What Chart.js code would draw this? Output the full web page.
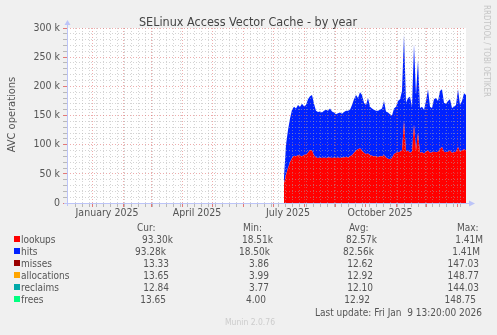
<!DOCTYPE html>
<html>
<head>
<meta charset="utf-8">
<script src="https://cdn.jsdelivr.net/npm/chart.js@4/dist/chart.umd.min.js"></script>
<style>
  body { margin: 0; background: #f0f0f0; }
  #wrap { width: 497px; height: 335px; }
</style>
</head>
<body>
<div id="wrap"><canvas id="avcChart" width="497" height="335"></canvas></div>
<script>
// days counted from 1 Jan 2025; one sample every 2 days from 12 Jul 2025
const firstDay = 192;
const stepDays = 2;

// lookups (k)
const lookups = [
  34, 48, 60, 70, 77, 81, 80, 82, 81, 80, 82, 83, 86, 91, 90, 82,
  78, 77, 78, 77, 78, 77, 78, 78, 77, 78, 77, 78, 77, 78, 78, 79,
  78, 80, 82, 86, 90, 92, 94, 90, 86, 84, 85, 82, 81, 80, 80, 79,
  80, 80, 82, 78, 76, 75, 77, 84, 86, 87, 88, 90, 140, 88, 90, 86,
  88, 134, 90, 120, 86, 87, 85, 88, 90, 86, 87, 88, 87, 88, 92, 96,
  88, 87, 88, 90, 86, 87, 88, 96, 88, 90, 92, 90
];
// hits (k), stacked on lookups
const hits = [
  11, 52, 65, 75, 83, 84, 82, 86, 84, 90, 84, 85, 92, 92, 95, 88,
  80, 79, 79, 78, 80, 83, 80, 84, 80, 77, 75, 76, 78, 75, 78, 79,
  80, 80, 86, 92, 95, 88, 96, 95, 86, 84, 95, 83, 81, 80, 78, 79,
  80, 82, 93, 79, 79, 77, 73, 78, 79, 88, 90, 102, 148, 84, 90, 96,
  77, 138, 95, 125, 77, 78, 75, 87, 105, 79, 76, 90, 93, 87, 100, 99,
  84, 83, 87, 88, 77, 78, 80, 99, 80, 85, 96, 95
];

const yTicks = [0, 50000, 100000, 150000, 200000, 250000, 300000];
const monthStarts = [0, 31, 59, 90, 120, 151, 181, 212, 243, 273, 304, 334, 365];
const monthLabels = ['January 2025', 'April 2025', 'July 2025', 'October 2025'];
const monthLabelDays = [14, 104, 195, 287];

const seriesNames = ['lookups', 'hits', 'misses', 'allocations', 'reclaims', 'frees'];
const seriesColors = ['#ff0000', '#0022ff', '#990000', '#ffa500', '#00a8a8', '#00ff80'];
const curVals = ['93.30k', '93.28k', '13.33', '13.65', '12.84', '13.65'];
const minVals = ['18.51k', '18.50k', '3.86', '3.99', '3.77', '4.00'];
const avgVals = ['82.57k', '82.56k', '12.62', '12.92', '12.10', '12.92'];
const maxVals = ['1.41M', '1.41M', '147.03', '148.77', '144.03', '148.75'];

const FONT = '"DejaVu Sans Condensed", "DejaVu Sans", sans-serif';
const RED_GRID = 'rgba(222, 90, 90, 0.5)';
const GREY_GRID = 'rgba(170, 170, 170, 0.5)';
const AXIS = '#bcc4f8';

const toPoints = arr => arr.map((v, i) => ({ x: firstDay + i * stepDays, y: v * 1000 }));

// weekly minor lines + month lines
const xGridTicks = [];
for (let d = -17; d <= 374; d += 7) {
  if (!monthStarts.includes(d)) xGridTicks.push(d);
}
monthStarts.forEach(d => xGridTicks.push(d));
xGridTicks.sort((a, b) => a - b);

const muninDecor = {
  id: 'muninDecor',
  beforeDraw(chart) {
    const { ctx, chartArea: a } = chart;
    ctx.save();
    ctx.fillStyle = '#f0f0f0';
    ctx.fillRect(0, 0, chart.width, chart.height);
    ctx.fillStyle = '#ffffff';
    ctx.fillRect(a.left, a.top, a.right - a.left, a.bottom - a.top);
    ctx.restore();
  },
  afterDraw(chart) {
    const { ctx, chartArea: a } = chart;
    const xs = chart.scales.x;
    ctx.save();

    // axes with arrows
    ctx.strokeStyle = AXIS;
    ctx.fillStyle = AXIS;
    ctx.lineWidth = 1;
    ctx.beginPath();
    ctx.moveTo(a.left + 0.5, a.bottom + 3);
    ctx.lineTo(a.left + 0.5, a.top - 4);
    ctx.moveTo(a.left - 3, a.bottom + 0.5);
    ctx.lineTo(a.right + 4, a.bottom + 0.5);
    ctx.stroke();
    ctx.beginPath();
    ctx.moveTo(a.left - 2.5, a.top - 3);
    ctx.lineTo(a.left + 3.5, a.top - 3);
    ctx.lineTo(a.left + 0.5, a.top - 8);
    ctx.closePath();
    ctx.fill();
    ctx.beginPath();
    ctx.moveTo(a.right + 3, a.bottom - 2.5);
    ctx.lineTo(a.right + 3, a.bottom + 3.5);
    ctx.lineTo(a.right + 9, a.bottom + 0.5);
    ctx.closePath();
    ctx.fill();

    // title
    ctx.fillStyle = '#444';
    ctx.font = '12.5px ' + FONT;
    ctx.textAlign = 'center';
    ctx.textBaseline = 'alphabetic';
    ctx.fillText('SELinux Access Vector Cache - by year', 248, 25.5);

    // y title
    ctx.save();
    ctx.translate(14.5, 114.5);
    ctx.rotate(-Math.PI / 2);
    ctx.font = '11px ' + FONT;
    ctx.fillStyle = '#555';
    ctx.textAlign = 'center';
    ctx.fillText('AVC operations', 0, 0);
    ctx.restore();

    // month labels
    ctx.font = '10.5px ' + FONT;
    ctx.fillStyle = '#555';
    ctx.textAlign = 'center';
    monthLabels.forEach((t, i) => {
      ctx.fillText(t, xs.getPixelForValue(monthLabelDays[i]) + 1, 216);
    });

    // side credit
    ctx.save();
    ctx.translate(484, 5);
    ctx.rotate(Math.PI / 2);
    ctx.font = '8.5px ' + FONT;
    ctx.fillStyle = '#c4c4c4';
    ctx.textAlign = 'left';
    ctx.fillText('RRDTOOL / TOBI OETIKER', 0, 0, 92);
    ctx.restore();

    // legend table
    ctx.font = '10px ' + FONT;
    ctx.fillStyle = '#555';
    ctx.textAlign = 'left';
    ctx.fillText('Cur:', 137, 231);
    ctx.fillText('Min:', 243, 231);
    ctx.fillText('Avg:', 349, 231);
    ctx.fillText('Max:', 457, 231);
    const rowShift = [4, 1, 0, 0, 0, -3];
    const curShift = [0, -4, 0, 0, 0, 0];
    seriesNames.forEach((name, i) => {
      const yc = 239 + i * 12;
      ctx.fillStyle = seriesColors[i];
      ctx.fillRect(14, yc - 3, 6, 6);
      ctx.fillStyle = '#555';
      ctx.textAlign = 'left';
      ctx.fillText(name, 21, yc + 3.5);
      ctx.textAlign = 'right';
      ctx.fillText(curVals[i], 169 + rowShift[i] + curShift[i], yc + 3.5);
      ctx.fillText(minVals[i], 269 + rowShift[i], yc + 3.5);
      ctx.fillText(avgVals[i], 373 + rowShift[i], yc + 3.5);
      ctx.fillText(maxVals[i], 479 + rowShift[i], yc + 3.5);
    });
    ctx.textAlign = 'right';
    ctx.fillText('Last update: Fri Jan  9 13:20:00 2026', 482, 316);

    ctx.font = '8.5px ' + FONT;
    ctx.fillStyle = '#cccccc';
    ctx.textAlign = 'left';
    ctx.fillText('Munin 2.0.76', 225, 325);
    ctx.restore();
  }
};

new Chart(document.getElementById('avcChart'), {
  type: 'line',
  data: {
    datasets: [
      {
        label: 'lookups',
        data: toPoints(lookups),
        backgroundColor: seriesColors[0],
        borderWidth: 0,
        pointRadius: 0,
        fill: 'origin',
        tension: 0
      },
      {
        label: 'hits',
        data: toPoints(hits),
        backgroundColor: seriesColors[1],
        borderWidth: 0,
        pointRadius: 0,
        fill: '-1',
        tension: 0
      }
    ]
  },
  options: {
    responsive: false,
    animation: false,
    devicePixelRatio: 1,
    layout: { padding: { left: 0, right: 31, top: 28, bottom: 0 } },
    plugins: {
      legend: { display: false },
      title: { display: false },
      tooltip: { enabled: false }
    },
    scales: {
      x: {
        type: 'linear',
        min: -25,
        max: 374,
        afterBuildTicks: scale => { scale.ticks = xGridTicks.map(v => ({ value: v })); },
        afterFit: scale => { scale.height = 132; },
        ticks: { autoSkip: false, callback: () => '', font: { size: 1 } },
        grid: {
          z: 1,
          color: c => monthStarts.includes(c.tick.value) ? RED_GRID : GREY_GRID,
          tickColor: c => monthStarts.includes(c.tick.value) ? 'rgba(222,90,90,0.8)' : 'rgba(170,170,170,0.8)',
          tickLength: 4
        },
        border: { display: false, dash: [1, 2] }
      },
      y: {
        stacked: true,
        min: 0,
        max: 300000,
        afterBuildTicks: scale => {
          const t = [];
          for (let v = 0; v <= 300000; v += 10000) t.push({ value: v });
          scale.ticks = t;
        },
        afterFit: scale => { scale.width = 67; },
        ticks: {
          autoSkip: false,
          padding: 3,
          color: '#555',
          font: { family: FONT, size: 10.5 },
          callback: v => yTicks.includes(v) ? (v === 0 ? '0' : (v / 1000) + ' k') : ''
        },
        grid: {
          z: 1,
          color: c => yTicks.includes(c.tick.value) ? RED_GRID : GREY_GRID,
          tickColor: c => yTicks.includes(c.tick.value) ? 'rgba(222,90,90,0.8)' : 'rgba(170,170,170,0.8)',
          tickLength: 4
        },
        border: { display: false, dash: [1, 2] }
      }
    }
  },
  plugins: [muninDecor]
});
</script>
</body>
</html>
